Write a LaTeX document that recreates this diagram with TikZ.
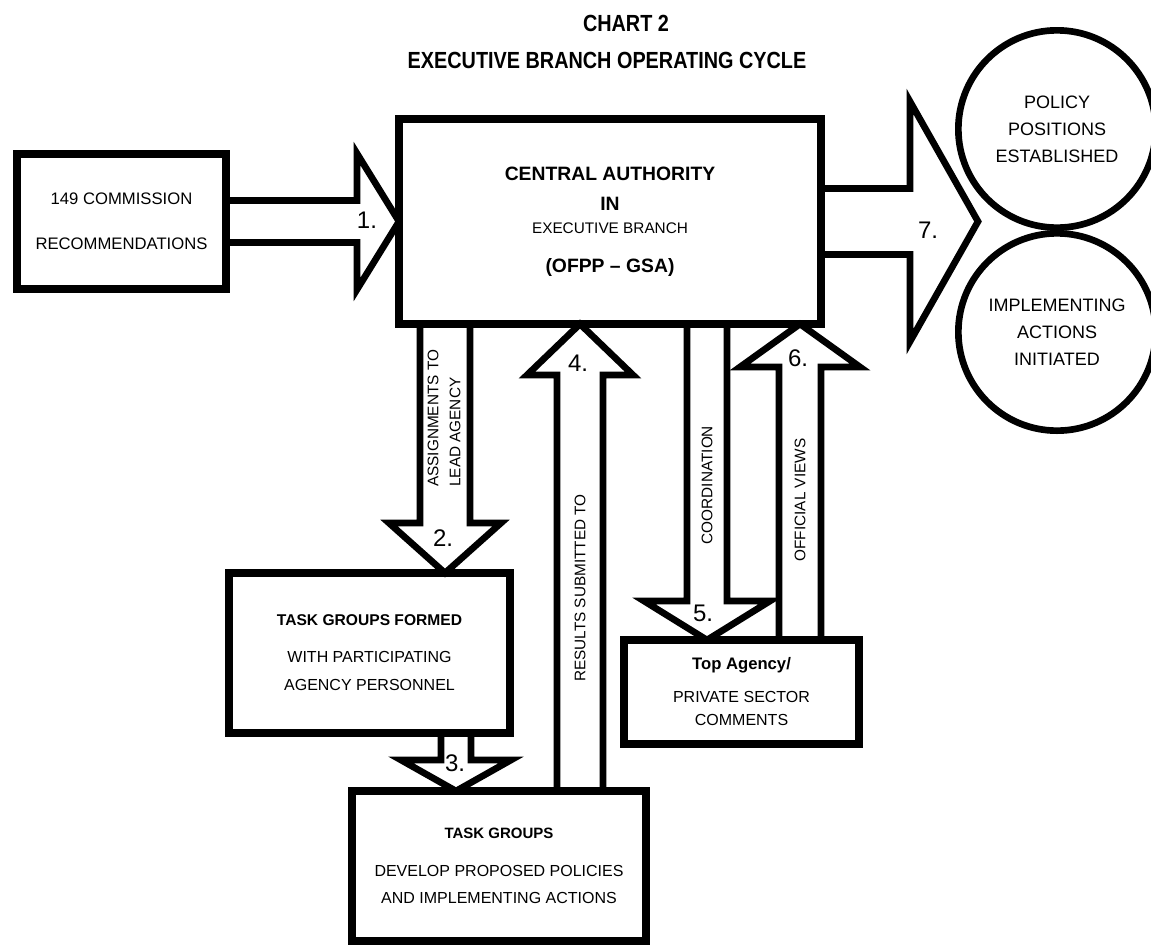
\documentclass[tikz,border=0pt]{standalone}
\usepackage{fontspec}
\setmainfont{Liberation Sans}
\usepackage{graphicx}
\usetikzlibrary{calc}

% wide arrow between two points: from, to, half shaft, half head, head length
\newcommand{\vblock}[5]{%
  \draw[blockarrow] let \p1=(#1), \p2=(#2), \n1={sign(\y2-\y1)*#5} in
    ({\x1-#3},\y1) -- ({\x1-#3},{\y2-(\n1)}) -- ({\x1-#4},{\y2-(\n1)}) -- (\x1,\y2)
    -- ({\x1+#4},{\y2-(\n1)}) -- ({\x1+#3},{\y2-(\n1)}) -- ({\x1+#3},\y1);}
\newcommand{\hblock}[5]{%
  \draw[blockarrow] let \p1=(#1), \p2=(#2), \n1={sign(\x2-\x1)*#5} in
    (\x1,{\y1-#3}) -- ({\x2-(\n1)},{\y1-#3}) -- ({\x2-(\n1)},{\y1-#4}) -- (\x2,\y1)
    -- ({\x2-(\n1)},{\y1+#4}) -- ({\x2-(\n1)},{\y1+#3}) -- (\x1,{\y1+#3});}

\begin{document}
\begin{tikzpicture}[x=0.75pt,y=-0.75pt,
    box/.style={draw,line width=5.5pt,inner sep=0pt,outer sep=0pt,align=center},
    ring/.style={draw,circle,line width=5pt,inner sep=0pt,outer sep=0pt,minimum size=148pt,
      align=center,font=\fontsize{13.5}{20.25}\selectfont},
    blockarrow/.style={line width=5pt,line join=miter},
    num/.style={font=\fontsize{18}{18}\selectfont},
    sidetext/.style={rotate=90,inner sep=0pt,font=\fontsize{11.5}{16.5}\selectfont}]

\useasboundingbox (0,0) rectangle (1151,946);

% Title
\node[font=\bfseries\fontsize{17.5}{21}\selectfont] (chart) at (626,23) {\scalebox{0.85}[1]{CHART 2}};
\node[font=\bfseries\fontsize{17.5}{21}\selectfont] (cycle) at (607,60) {\scalebox{0.85}[1]{EXECUTIVE BRANCH OPERATING CYCLE}};

% Boxes
\node[box,minimum width=156.75pt,minimum height=101.25pt,font=\fontsize{12.5}{33.75}\selectfont] (comm) at (121.5,221.5)
  {149 COMMISSION\\RECOMMENDATIONS};
\node[box,minimum width=316.5pt,minimum height=153.75pt,font=\bfseries\fontsize{14.5}{17.5}\selectfont] (central) at (610,221.5)
  {CENTRAL AUTHORITY\\[5pt]IN\\{\mdseries\fontsize{11.5}{17.5}\selectfont EXECUTIVE BRANCH}\\[11.4pt](OFPP -- GSA)};
\node[box,minimum width=210.75pt,minimum height=120pt,font=\fontsize{12}{21}\selectfont] (tgf) at (369.5,653)
  {{\bfseries\fontsize{11.7}{21}\selectfont TASK GROUPS FORMED}\\[6.75pt]WITH PARTICIPATING\\AGENCY PERSONNEL};
\node[box,minimum width=220.5pt,minimum height=112.5pt,font=\fontsize{12}{20.25}\selectfont] (tg) at (499,866)
  {{\bfseries\fontsize{11.25}{20.25}\selectfont TASK GROUPS}\\[8.25pt]DEVELOP PROPOSED POLICIES\\AND IMPLEMENTING ACTIONS};
\node[box,minimum width=176.25pt,minimum height=78pt,font=\fontsize{12}{17.25}\selectfont] (ta) at (741.5,692)
  {{\bfseries\fontsize{12.5}{17.25}\selectfont Top Agency/}\\[7.5pt]PRIVATE SECTOR\\COMMENTS};

% Outcomes
\node[ring] (pol) at (1057,129) {POLICY\\POSITIONS\\ESTABLISHED};
\node[ring] (imp) at (1057,332) {IMPLEMENTING\\ACTIONS\\INITIATED};

% Cycle arrows
\coordinate (a7tip) at (978,221.5);
\coordinate (a2s) at ($(central.south west)+(46,0)$);
\coordinate (a3s) at ($(tgf.south east)+(-54,0)$);
\coordinate (a4s) at ($(tg.north east)+(-66,0)$);
\coordinate (a5e) at ($(ta.north west)+(83,0)$);
\coordinate (a6s) at ($(ta.north east)+(-59,0)$);

\hblock{comm.east}{central.west |- comm.east}{15.75pt}{51pt}{31.5pt}
\vblock{a2s}{a2s |- tgf.north}{18.75pt}{42pt}{37.5pt}
\vblock{a3s}{a3s |- tg.north}{11.25pt}{41.25pt}{23.25pt}
\vblock{a4s}{a4s |- central.south}{17.25pt}{39.75pt}{38.25pt}
\vblock{a5e |- central.south}{a5e}{15pt}{47.25pt}{29.25pt}
\vblock{a6s}{a6s |- central.south}{15.75pt}{45pt}{32.25pt}
\hblock{central.east}{a7tip}{24.75pt}{90pt}{51pt}

% Step numbers
\node[num] (n1) at (367,220) {1.};
\node[num] (n2) at (443,538) {2.};
\node[num] (n3) at (455,763) {3.};
\node[num] (n4) at (578,363) {4.};
\node[num] (n5) at (703,613) {5.};
\node[num] (n6) at (798,358) {6.};
\node[num] (n7) at (928,230) {7.};

% Labels along the shafts
\node[sidetext,anchor=west,align=left] (assign) at (444,487) {ASSIGNMENTS TO\\LEAD AGENCY};
\node[sidetext] (results) at (580,588) {RESULTS SUBMITTED TO};
\node[sidetext] (coord) at (707,485) {COORDINATION};
\node[sidetext] (views) at (800,500) {OFFICIAL VIEWS};

\end{tikzpicture}
\end{document}
